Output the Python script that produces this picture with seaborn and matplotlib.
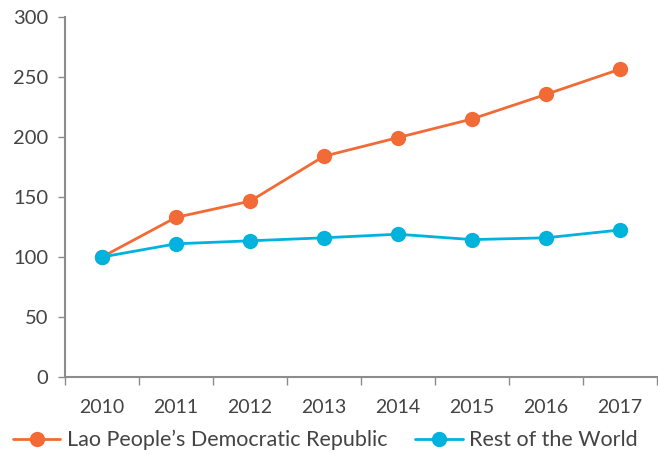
import numpy as np
import pandas as pd
import matplotlib
matplotlib.use("Agg")
import matplotlib.pyplot as plt
import seaborn as sns


# DATA
years = ["2010", "2011", "2012", "2013", "2014", "2015", "2016", "2017"]
lao = [100, 133, 146.5, 184, 199.5, 215, 235.5, 256.5]
rest = [100, 111, 113.5, 116, 119, 114.5, 116, 122.5]
series_names = ["Lao People\u2019s Democratic Republic", "Rest of the World"]

df = pd.DataFrame({
    "year": list(range(len(years))) * 2,
    "value": lao + rest,
    "series": [series_names[0]] * len(years) + [series_names[1]] * len(years),
})

colors = {series_names[0]: "#F26A35", series_names[1]: "#00B3DC"}
text_color = "#444444"
axis_color = "#8C8C8C"


# PLOT
sns.set_style("white")
plt.rcParams["font.family"] = ["Lato", "DejaVu Sans"]

fig = plt.figure(figsize=(6.58, 4.55), dpi=100)
ax = fig.add_axes([65 / 658, 78 / 455, 592 / 658, 360 / 455])

sns.lineplot(
    data=df,
    x="year",
    y="value",
    hue="series",
    palette=colors,
    marker="o",
    markersize=11,
    markeredgewidth=0,
    linewidth=2,
    ax=ax,
)

ax.set_xlim(-0.5, len(years) - 0.5)
ax.set_ylim(0, 300)
ax.set_yticks(range(0, 301, 50))
ax.set_xticks(range(len(years)))
ax.set_xticklabels(years)
ax.set_xticks(np.arange(-0.5, len(years), 1), minor=True)
ax.tick_params(axis="x", which="major", length=0, pad=16,
               labelsize=14, labelcolor=text_color)
ax.tick_params(axis="x", which="minor", length=6, width=1,
               color=axis_color, direction="out", bottom=True)
ax.tick_params(axis="y", length=5, width=1, color=axis_color,
               direction="out", left=True, labelsize=14.5,
               labelcolor=text_color, pad=7)
ax.set_xlabel("")
ax.set_ylabel("")

for side in ["top", "right"]:
    ax.spines[side].set_visible(False)
for side in ["left", "bottom"]:
    ax.spines[side].set_color(axis_color)
    ax.spines[side].set_linewidth(1.5)

# LEGEND
handles, labels = ax.get_legend_handles_labels()
ax.legend(
    handles,
    labels,
    loc="center left",
    bbox_to_anchor=(-52 / 592, -63 / 360),
    ncol=2,
    frameon=False,
    fontsize=15.5,
    labelcolor=text_color,
    handlelength=2.2,
    handletextpad=0.3,
    columnspacing=1.3,
    borderaxespad=0,
    borderpad=0,
)

fig.savefig("out.png", dpi=100)
